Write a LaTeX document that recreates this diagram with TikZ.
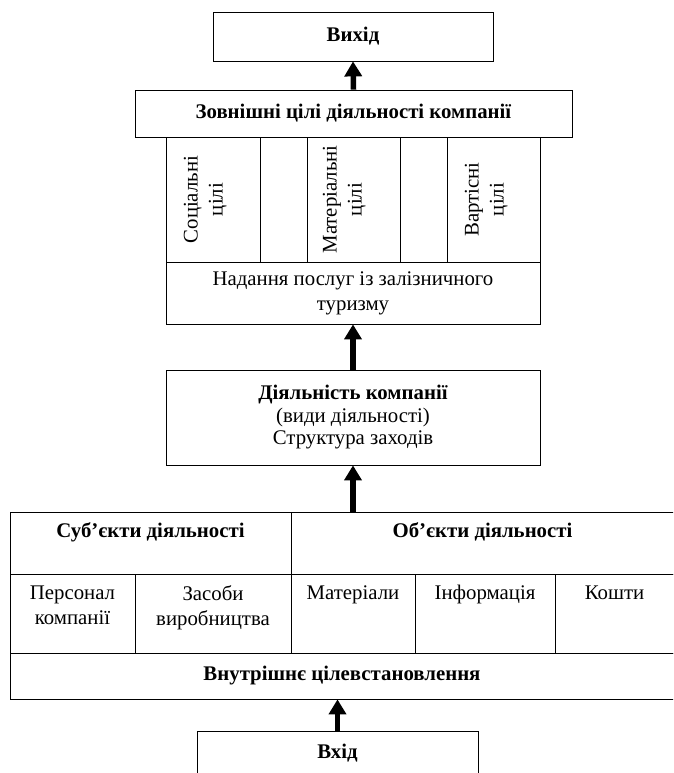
\documentclass[tikz,border=0pt]{standalone}
\usepackage{fontspec}
\setmainfont{Liberation Serif}
\usetikzlibrary{arrows.meta}

\begin{document}
\begin{tikzpicture}[x=1pt, y=-1pt,
	every node/.style = {font=\fontsize{20.8}{25}\selectfont},
	box/.style = {draw, line width=0.8pt, inner sep=0pt, align=center},
	txt/.style = {inner sep=0pt, align=center},
	vtxt/.style = {inner sep=0pt, align=center, rotate=90},
	up/.style = {line width=5.5pt, -{Triangle[width=17pt, length=15pt]}}]
	\useasboundingbox (0,0) rectangle (673,773);
	\clip (0,0) rectangle (673,773);
	\node[box, minimum width=280, minimum height=49] (vyhid) at (353,36.5) {\textbf{Вихід}};
	\node[box, minimum width=437, minimum height=47] (zovn) at (353.5,113.5) {\textbf{Зовнішні цілі діяльності компанії}};
	\node[box, minimum width=94, minimum height=125] (soc) at (213,199.5) {};
	\node[box, minimum width=47, minimum height=125] (gap1) at (283.5,199.5) {};
	\node[box, minimum width=93, minimum height=125] (mat) at (353.5,199.5) {};
	\node[box, minimum width=47, minimum height=125] (gap2) at (423.5,199.5) {};
	\node[box, minimum width=93, minimum height=125] (vart) at (493.5,199.5) {};
	\node[vtxt, anchor=north] (soct) at ([xshift=18]soc.west) {Соціальні\\цілі};
	\node[vtxt, anchor=north] (matt) at ([xshift=16]mat.west) {Матеріальні\\цілі};
	\node[vtxt, anchor=north] (vartt) at ([xshift=18]vart.west) {Вартісні\\цілі};
	\node[box, minimum width=374, minimum height=62] (nadan) at (353,293) {Надання послуг із залізничного\\туризму};
	\node[box, minimum width=374, minimum height=95, font=\fontsize{20.8}{22.5}\selectfont] (diyal) at (353,417.5) {\textbf{Діяльність компанії}\\(види діяльності)\\Структура заходів};
	\node[box, minimum width=281, minimum height=62] (subj) at (150.5,543) {};
	\node[box, minimum width=383, minimum height=62] (obj) at (482.5,543) {};
	\node[box, minimum width=125, minimum height=79] (pers) at (72.5,613.5) {};
	\node[box, minimum width=156, minimum height=79] (zas) at (213,613.5) {};
	\node[box, minimum width=124, minimum height=79] (mater) at (353,613.5) {};
	\node[box, minimum width=140, minimum height=79] (info) at (485,613.5) {};
	\node[box, minimum width=119, minimum height=79] (kosht) at (614.5,613.5) {};
	\node[box, minimum width=664, minimum height=46] (vnutr) at (342,676) {\textbf{Внутрішнє цілевстановлення}};
	\node[box, minimum width=281, minimum height=44] (vhid) at (337.5,753) {\textbf{Вхід}};
	\node[txt, anchor=base] (subjt) at ([yshift=-26]subj.north) {\textbf{Суб’єкти діяльності}};
	\node[txt, anchor=base] (objt) at ([yshift=-26]obj.north) {\textbf{Об’єкти діяльності}};
	\node[txt, anchor=north] (perst) at ([yshift=-12]pers.north) {Персонал\\компанії};
	\node[txt, anchor=north] (zast) at ([yshift=-12]zas.north) {Засоби\\виробництва};
	\node[txt, anchor=base] (matert) at ([yshift=-26]mater.north) {Матеріали};
	\node[txt, anchor=base] (infot) at ([yshift=-26]info.north) {Інформація};
	\node[txt, anchor=base] (koshtt) at ([yshift=-26]kosht.north) {Кошти};
	\draw[up] (zovn.north) -- (vyhid.south);
	\draw[up] (diyal.north) -- (nadan.south);
	\draw[up] (obj.north -| diyal.south) -- (diyal.south);
	\draw[up] (vhid.north) -- (vnutr.south -| vhid.north);
\end{tikzpicture}
\end{document}
